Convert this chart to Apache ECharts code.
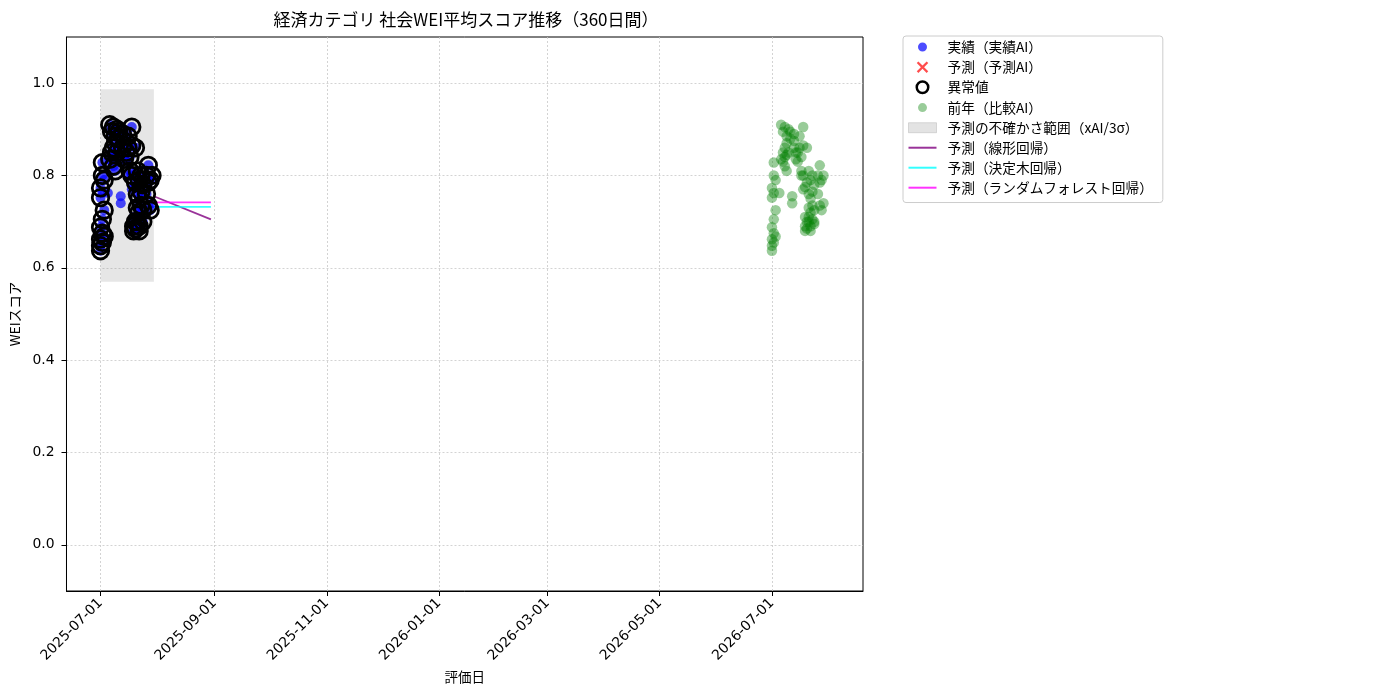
<!DOCTYPE html>
<html lang="ja">
<head>
<meta charset="UTF-8">
<title>経済カテゴリ 社会WEI平均スコア推移</title>
<script src="https://cdn.jsdelivr.net/npm/echarts@6.0.0/dist/echarts.min.js"></script>
<style>
  html, body { margin: 0; padding: 0; background: #fff; }
  #chart { width: 1400px; height: 700px; }
</style>
</head>
<body>
<div id="chart"></div>
<script>
// 評価日ごとの実績スコア（同日に複数件）
var actualDates = ['2025-07-01','2025-07-02','2025-07-03','2025-07-05','2025-07-06','2025-07-07','2025-07-08',
  '2025-07-09','2025-07-10','2025-07-11','2025-07-12','2025-07-13','2025-07-14','2025-07-15','2025-07-16',
  '2025-07-17','2025-07-18','2025-07-19','2025-07-20','2025-07-21','2025-07-22','2025-07-23','2025-07-24',
  '2025-07-26','2025-07-27','2025-07-28','2025-07-29'];
var actualScores = [
  [0.637, 0.648, 0.662, 0.688, 0.752, 0.773],
  [0.655, 0.675, 0.705, 0.762, 0.800, 0.828],
  [0.668, 0.725, 0.790],
  [0.762],
  [0.835, 0.910],
  [0.895, 0.850, 0.830],
  [0.905, 0.840, 0.860, 0.820],
  [0.885, 0.870, 0.845, 0.810],
  [0.900, 0.850],
  [0.895, 0.880],
  [0.755, 0.740],
  [0.890, 0.875, 0.860],
  [0.835, 0.850],
  [0.830, 0.850],
  [0.885, 0.860],
  [0.840, 0.810, 0.800],
  [0.905, 0.865, 0.800, 0.770],
  [0.710, 0.680, 0.775, 0.690],
  [0.785, 0.700, 0.685, 0.860],
  [0.810, 0.760, 0.730, 0.710, 0.700],
  [0.790, 0.750, 0.720, 0.690, 0.680],
  [0.800, 0.765, 0.735, 0.705],
  [0.780, 0.725, 0.700, 0.695],
  [0.800, 0.760],
  [0.822, 0.785, 0.735],
  [0.790, 0.725],
  [0.800, 0.740]
];
// 異常値として判定されたスコア
var anomalyScores = [
  [0.637, 0.648, 0.662, 0.688, 0.752, 0.773],
  [0.655, 0.675, 0.705, 0.800, 0.828],
  [0.668, 0.725, 0.790],
  [],
  [0.835, 0.910],
  [0.895, 0.850],
  [0.905, 0.860, 0.820],
  [0.885, 0.870, 0.810],
  [0.900, 0.850],
  [0.895, 0.880],
  [],
  [0.890, 0.860],
  [0.835],
  [0.850],
  [0.885, 0.860],
  [0.840, 0.810],
  [0.905, 0.865, 0.800],
  [0.680, 0.690],
  [0.785, 0.700, 0.685, 0.860],
  [0.810, 0.760, 0.730, 0.700],
  [0.790, 0.750, 0.720, 0.690, 0.680],
  [0.800, 0.765, 0.735],
  [0.780, 0.725, 0.700],
  [0.800, 0.760],
  [0.822, 0.785, 0.735],
  [0.790, 0.725],
  [0.800]
];
// 前年（比較AI）: 1年後の同日に重ねて表示
var prevYearDates = ['2026-07-01','2026-07-02','2026-07-03','2026-07-05','2026-07-06','2026-07-07','2026-07-08',
  '2026-07-09','2026-07-10','2026-07-11','2026-07-12','2026-07-13','2026-07-14','2026-07-15','2026-07-16',
  '2026-07-17','2026-07-18','2026-07-19','2026-07-20','2026-07-21','2026-07-22','2026-07-23','2026-07-24',
  '2026-07-26','2026-07-27','2026-07-28','2026-07-29'];
var prevYearScores = actualScores;

// 予測
var forecastDates = ['2025-07-30', '2025-08-30'];
var linearForecast = [0.755, 0.705];
var treeForecast = [0.732, 0.732];
var forestForecast = [0.742, 0.742];
var bandDates = ['2025-07-01', '2025-07-30'];
var bandRange = [0.570, 0.987];

var xTicks = ['2025-07-01','2025-09-01','2025-11-01','2026-01-01','2026-03-01','2026-05-01','2026-07-01'];
var yTicks = [0.0, 0.2, 0.4, 0.6, 0.8, 1.0];

function ts(s) { return new Date(s + 'T00:00:00').getTime(); }
function pad(n) { return (n < 10 ? '0' : '') + n; }
function fmtDate(v) { var d = new Date(v); return d.getFullYear() + '-' + pad(d.getMonth() + 1) + '-' + pad(d.getDate()); }
function flatten(dates, groups) {
  var out = [];
  groups.forEach(function (g, i) { g.forEach(function (v) { out.push([ts(dates[i]), v]); }); });
  return out;
}
function pairs(dates, vals) { return dates.map(function (d, i) { return [ts(d), vals[i]]; }); }

var FONT = '"Noto Sans CJK JP", "DejaVu Sans", sans-serif';
var TICK_FONT = '"DejaVu Sans", sans-serif';
var DAY = 86400000;
var LINE_ICON = 'path://M0,0L28,0L28,2L0,2Z';

var chart = echarts.init(document.getElementById('chart'));
chart.setOption({
  animation: false,
  textStyle: { fontFamily: FONT },
  graphic: [{
    type: 'text', x: 466, y: 20,
    style: { text: '経済カテゴリ 社会WEI平均スコア推移（360日間）', font: '17px ' + FONT, fill: '#000', align: 'center', verticalAlign: 'middle' }
  }],
  grid: { left: 66, right: 537, top: 37, bottom: 109, show: true, borderColor: '#000', borderWidth: 1, containLabel: false },
  legend: {
    orient: 'vertical', left: 903, top: 36,
    padding: [4, 10, 8, 5], itemGap: 6.3, itemWidth: 28, itemHeight: 11.5,
    borderColor: '#cccccc', borderWidth: 1, borderRadius: 3,
    textStyle: { fontSize: 13.7, color: '#000', fontFamily: FONT, padding: [0, 0, 0, 6] },
    data: [
      { name: '実績（実績AI）', icon: 'circle', itemStyle: { color: 'rgba(0,0,255,0.7)', borderColor: '#fff', borderWidth: 2.5 } },
      { name: '予測（予測AI）', icon: 'path://M0,1.4L1.4,0L5,3.6L8.6,0L10,1.4L6.4,5L10,8.6L8.6,10L5,6.4L1.4,10L0,8.6L3.6,5Z', itemStyle: { color: 'rgba(255,0,0,0.7)' } },
      { name: '異常値', icon: 'circle', itemStyle: { color: '#fff', borderColor: '#000', borderWidth: 2.5 } },
      { name: '前年（比較AI）', icon: 'circle', itemStyle: { color: 'rgba(0,128,0,0.4)', borderColor: '#fff', borderWidth: 2.5 } },
      { name: '予測の不確かさ範囲（xAI/3σ）', icon: 'path://M0,0L28,0L28,10L0,10Z', itemStyle: { color: 'rgba(128,128,128,0.22)', borderColor: 'rgba(128,128,128,0.25)', borderWidth: 1 } },
      { name: '予測（線形回帰）', icon: LINE_ICON, itemStyle: { color: 'rgba(128,0,128,0.8)' } },
      { name: '予測（決定木回帰）', icon: LINE_ICON, itemStyle: { color: 'rgba(0,255,255,0.8)' } },
      { name: '予測（ランダムフォレスト回帰）', icon: LINE_ICON, itemStyle: { color: 'rgba(255,0,255,0.8)' } }
    ]
  },
  xAxis: {
    type: 'value',
    min: ts('2025-07-01') - 18.5 * DAY,
    max: ts('2026-07-01') + 49.5 * DAY,
    name: '評価日', nameLocation: 'middle', nameGap: 79,
    nameTextStyle: { fontSize: 13.5, color: '#000' },
    axisLine: { onZero: false, lineStyle: { color: '#000' } },
    axisTick: { show: true, length: 5, lineStyle: { color: '#000' }, customValues: xTicks.map(ts) },
    axisLabel: { customValues: xTicks.map(ts), rotate: 45, fontSize: 13.9, fontFamily: TICK_FONT, color: '#000', margin: 10, formatter: fmtDate, hideOverlap: false },
    splitLine: { show: true, lineStyle: { color: '#c8c8c8', type: [2, 2], width: 0.8 } }
  },
  yAxis: {
    type: 'value', min: -0.1, max: 1.1,
    name: 'WEIスコア', nameLocation: 'middle', nameGap: 42, nameRotate: 90,
    nameTextStyle: { fontSize: 13.5, color: '#000' },
    axisLine: { show: true, onZero: false, lineStyle: { color: '#000' } },
    axisTick: { show: true, length: 5, lineStyle: { color: '#000' }, customValues: yTicks },
    axisLabel: { customValues: yTicks, fontSize: 13.9, fontFamily: TICK_FONT, color: '#000', margin: 12, formatter: function (v) { return v.toFixed(1); } },
    splitLine: { show: true, lineStyle: { color: '#c8c8c8', type: [2, 2], width: 0.8 } }
  },
  series: [
    {
      name: '予測の不確かさ範囲（xAI/3σ）', type: 'line', data: [], z: 1,
      itemStyle: { color: 'rgba(128,128,128,0.22)' },
      markArea: {
        silent: true,
        itemStyle: { color: 'rgba(128,128,128,0.2)' },
        data: [[{ xAxis: ts(bandDates[0]), yAxis: bandRange[0] }, { xAxis: ts(bandDates[1]), yAxis: bandRange[1] }]]
      }
    },
    {
      name: '実績（実績AI）', type: 'scatter', z: 3, symbolSize: 10,
      itemStyle: { color: 'rgba(0,0,255,0.7)', opacity: 1 },
      data: flatten(actualDates, actualScores)
    },
    {
      name: '予測（予測AI）', type: 'scatter', z: 3, data: [],
      itemStyle: { color: 'rgba(255,0,0,0.7)', opacity: 1 }
    },
    {
      name: '異常値', type: 'scatter', z: 4, symbolSize: 16.5,
      itemStyle: { color: 'rgba(0,0,0,0)', borderColor: '#000', borderWidth: 2.8, opacity: 1 },
      data: flatten(actualDates, anomalyScores)
    },
    {
      name: '前年（比較AI）', type: 'scatter', z: 3, symbolSize: 10.5,
      itemStyle: { color: 'rgba(0,128,0,0.4)', opacity: 1 },
      data: flatten(prevYearDates, prevYearScores)
    },
    {
      name: '予測（線形回帰）', type: 'line', z: 2, symbol: 'none',
      lineStyle: { color: 'rgba(128,0,128,0.8)', width: 1.8 }, itemStyle: { color: 'rgba(128,0,128,0.8)' },
      data: pairs(forecastDates, linearForecast)
    },
    {
      name: '予測（決定木回帰）', type: 'line', z: 2, symbol: 'none',
      lineStyle: { color: 'rgba(0,255,255,0.8)', width: 1.8 }, itemStyle: { color: 'rgba(0,255,255,0.8)' },
      data: pairs(forecastDates, treeForecast)
    },
    {
      name: '予測（ランダムフォレスト回帰）', type: 'line', z: 2, symbol: 'none',
      lineStyle: { color: 'rgba(255,0,255,0.8)', width: 1.8 }, itemStyle: { color: 'rgba(255,0,255,0.8)' },
      data: pairs(forecastDates, forestForecast)
    }
  ]
});
window.addEventListener('resize', function () { chart.resize(); });
</script>
</body>
</html>
